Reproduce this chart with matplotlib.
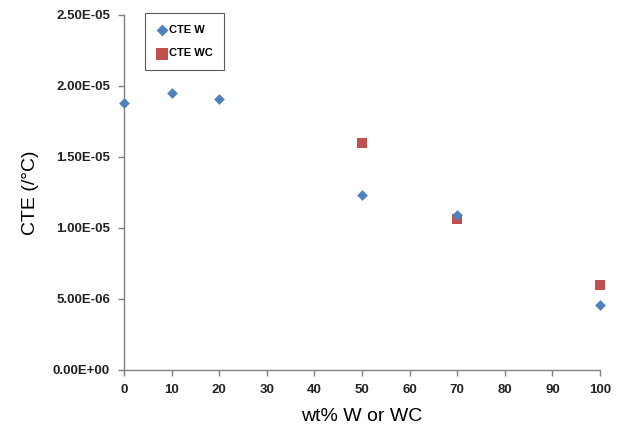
import matplotlib
matplotlib.use("Agg")
import matplotlib.pyplot as plt
from matplotlib.ticker import FuncFormatter

# CTE vs composition data
wt_w = [0, 10, 20, 50, 70, 100]
cte_w = [1.88e-5, 1.95e-5, 1.91e-5, 1.23e-5, 1.09e-5, 4.6e-6]
wt_wc = [50, 70, 100]
cte_wc = [1.60e-5, 1.06e-5, 6.0e-6]

x_ticks = list(range(0, 101, 10))
y_ticks = [0, 5e-6, 1e-5, 1.5e-5, 2e-5, 2.5e-5]

plt.rcParams['font.family'] = ['Liberation Sans', 'DejaVu Sans']

fig = plt.figure(figsize=(6.44, 4.33), dpi=100)
ax = fig.add_axes([0.1925, 0.1455, 0.7392, 0.8199])

ax.scatter(wt_w, cte_w, marker='D', s=30, color='#4F81BD', label='CTE W',
           zorder=3, clip_on=False, linewidths=0)
ax.scatter(wt_wc, cte_wc, marker='s', s=55, color='#C0504D', label='CTE WC',
           zorder=2, clip_on=False, linewidths=0)

ax.set_xlim(0, 100)
ax.set_ylim(0, 2.5e-5)
ax.set_xticks(x_ticks)
ax.set_yticks(y_ticks)
ax.yaxis.set_major_formatter(FuncFormatter(lambda v, p: f"{v:.2E}"))

for side in ('top', 'right'):
    ax.spines[side].set_visible(False)
for side in ('left', 'bottom'):
    ax.spines[side].set_color('#808080')
    ax.spines[side].set_linewidth(1.0)
ax.tick_params(direction='out', length=4, width=1, color='#808080',
               labelcolor='#222222', pad=6)
for lbl in ax.get_xticklabels() + ax.get_yticklabels():
    lbl.set_fontweight('bold')
    lbl.set_fontsize(9.5)

ax.set_xlabel('wt% W or WC', fontsize=14, labelpad=9)
ax.set_ylabel('CTE (/°C)', fontsize=14, labelpad=10)

leg = ax.legend(loc='upper left', bbox_to_anchor=(0.033, 1.02),
                prop={'weight': 'bold', 'size': 8},
                frameon=True, fancybox=False, edgecolor='#333333',
                handletextpad=0.05, borderpad=1.0, labelspacing=1.25,
                handlelength=1.1, scatterpoints=1, markerscale=1.1)
leg.get_frame().set_linewidth(0.8)

fig.savefig('out.png', dpi=100)
